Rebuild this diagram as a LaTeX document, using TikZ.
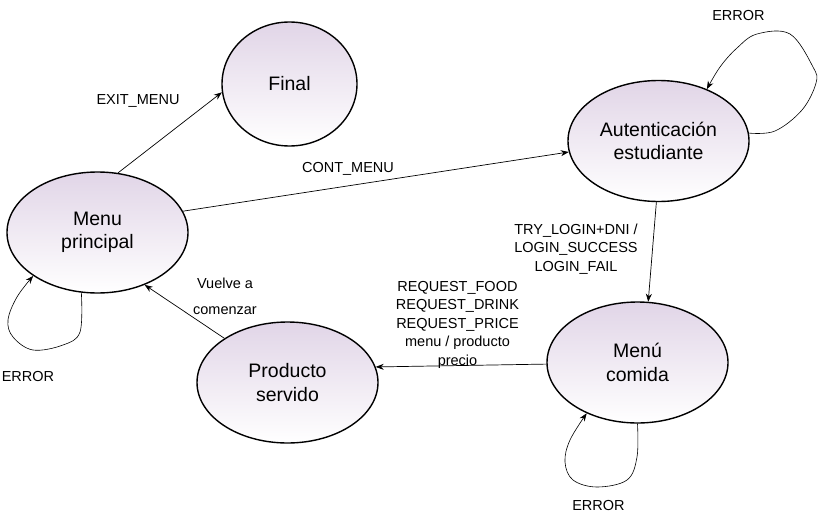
\documentclass[tikz,border=0pt]{standalone}
\usepackage{fontspec}
\setmainfont{Liberation Sans}
\usetikzlibrary{shapes.geometric,arrows.meta}
\definecolor{lilac}{RGB}{225,213,231}
\begin{document}
\begin{tikzpicture}[x=1pt,y=-1pt,
  state/.style={ellipse,draw,line width=1.4pt,top color=lilac,bottom color=white,
    minimum width=181pt,minimum height=121pt,inner sep=0pt,align=center,
    font=\fontsize{19.5}{23.5}\selectfont},
  tr/.style={draw,line width=0.7pt,-{Stealth[length=8pt,width=6pt]}},
  selfloop/.style={tr,line width=0.6pt},
  lbl/.style={font=\fontsize{14.5}{18.5}\selectfont,align=center,inner sep=0pt}]
\useasboundingbox (0,0) rectangle (827,514);

% states
\node[state,minimum width=135pt,minimum height=124pt] (fin) at (289.5,84) {Final};
\node[state] (mp) at (97.5,232.5) {Menu\\principal};
\node[state] (au) at (658.5,141) {Autenticación\\estudiante};
\node[state] (mc) at (637.5,362.5) {Menú\\comida};
\node[state] (ps) at (287.5,382.5) {Producto\\servido};

% transitions
\draw[tr] (mp.71) -- (fin.187);
\draw[tr] (mp.14) -- (au.187.5);
\draw[tr] (au.268) -- (mc.80);
\draw[tr] (mc.181.5) -- (ps.10);
\draw[tr] (ps.145.8) -- (mp.312.7);

% self loops
\draw[selfloop] plot[smooth,tension=0.6] coordinates {(mp.255.4) (80,332) (63,345) (33,350) (13,337) (8,320) (17,297) (mp.214.8)};
\draw[selfloop] plot[smooth,tension=0.6] coordinates {(au.5) (775,131) (802,110) (816,83) (813,67) (790,34) (757,34) (737,48) (720,67) (au.47)};
\draw[selfloop] plot[smooth,tension=0.6] coordinates {(mc.270) (637,457) (627,480) (597,487) (573,480) (565,462) (570,440) (mc.225.5)};

% labels
\node[lbl] (l1) at (138,101) {EXIT\_MENU};
\node[lbl] (l2) at (348,169) {CONT\_MENU};
\node[lbl] (l3) at (576,249) {TRY\_LOGIN+DNI /\\LOGIN\_SUCCESS\\LOGIN\_FAIL};
\node[lbl] (l4) at (457.5,324.5) {REQUEST\_FOOD\\REQUEST\_DRINK\\REQUEST\_PRICE\\menu / producto\\precio};
\node[lbl,font=\fontsize{14.5}{26}\selectfont] (l5) at (225,296) {Vuelve a\\comenzar};
\node[lbl] (e1) at (28,377) {ERROR};
\node[lbl] (e2) at (738.5,16) {ERROR};
\node[lbl] (e3) at (598.5,506) {ERROR};
\end{tikzpicture}
\end{document}
